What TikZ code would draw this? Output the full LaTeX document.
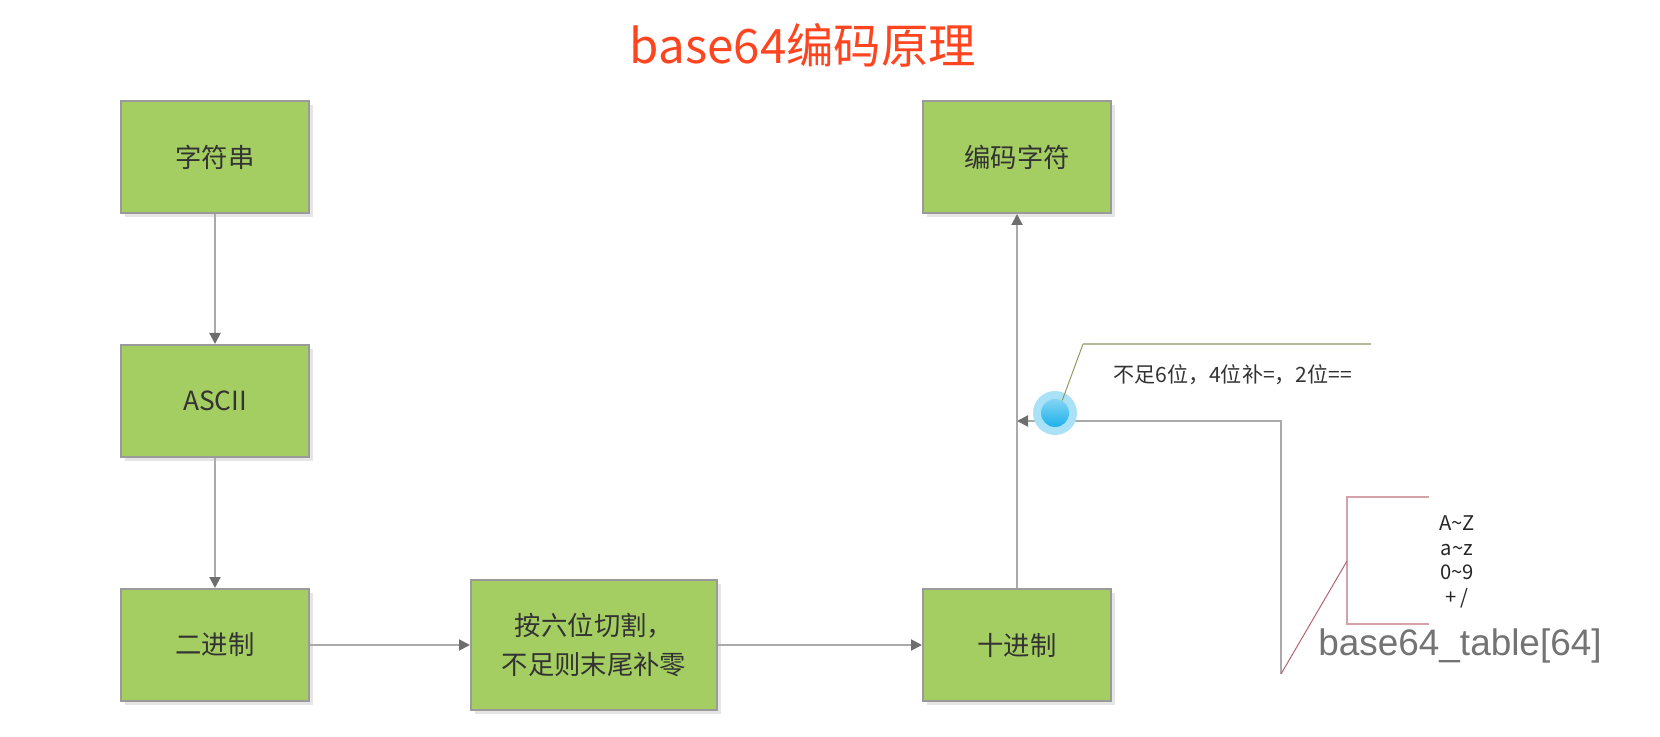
\documentclass[tikz,border=0pt]{standalone}
\usepackage{fontspec}
\setmainfont{Noto Sans CJK SC}
\newfontfamily\tablefont{Liberation Sans}
\usetikzlibrary{shapes,arrows.meta,shadows}
\definecolor{boxgreen}{HTML}{A5CE62}
\definecolor{boxline}{HTML}{9A9A9A}
\definecolor{lnk}{HTML}{AAAAAA}
\definecolor{tipgray}{HTML}{6E6E6E}
\definecolor{titlered}{HTML}{FF4420}
\definecolor{noteline}{HTML}{B2B996}
\definecolor{notediag}{HTML}{8E9C62}
\definecolor{pinkline}{HTML}{D4A3AA}
\definecolor{pinkdiag}{HTML}{B26473}
\definecolor{bubble}{HTML}{1DB1EA}
\definecolor{halo}{HTML}{A9E1F6}
\tikzstyle{block} = [draw=boxline, line width=0.04cm, fill=boxgreen, rectangle, minimum height=2.24cm, minimum width=3.76cm, align=center, text=black!80, font={\fontsize{15pt}{22.7pt}\selectfont}, drop shadow={shadow xshift=0.08cm, shadow yshift=-0.08cm, fill=black!10, opacity=1}]
\tikzstyle{conn} = [draw=lnk, line width=0.04cm]

\begin{document}
\begin{tikzpicture}[auto, node distance=4.88cm, >={Triangle[length=2.2mm, width=2.2mm, color=tipgray]}]
    \useasboundingbox (0,0) rectangle (33.2,14.72);
    \node [text=titlered, font={\fontsize{27pt}{30pt}\selectfont}] (title) at (16.06,13.82) {base64编码原理};

    \node [block] (str) at (4.30,11.58) {字符串};
    \node [block, below of=str] (asc) {ASCII};
    \node [block, below of=asc] (bin) {二进制};
    \node [block, right of=bin, node distance=7.58cm, minimum width=4.92cm, minimum height=2.6cm] (cut) {按六位切割，\\不足则末尾补零};
    \node [block, right of=cut, node distance=8.46cm] (dec) {十进制};
    \node [block, above of=dec, node distance=9.76cm] (enc) {编码字符};
    \draw [conn, ->] (str) -- (asc);
    \draw [conn, ->] (asc) -- (bin);
    \draw [conn, ->] (bin) -- (cut);
    \draw [conn, ->] (cut) -- (dec);
    \draw [conn, ->] (dec) -- (enc);

    % table link
    \coordinate (tbl) at (25.62,1.24);
    \coordinate (hit) at (dec |- 0,6.30);
    \draw [conn, ->] (tbl) |- (hit);

    % callout
    \node [circle, fill=halo, minimum size=0.88cm, inner sep=0pt] (halo) at (21.10,6.46) {};
    \node [circle, top color=bubble!55!white, bottom color=bubble, minimum size=0.56cm, inner sep=0pt] (dot) at (halo.center) {};
    \coordinate (knee) at (21.66,7.84);
    \draw [notediag, line width=0.02cm] (dot.60) -- (knee);
    \draw [noteline, line width=0.04cm] (knee) -- (27.42,7.84);
    \node [anchor=west, text=black!80, font={\fontsize{12pt}{13pt}\selectfont}] (note) at (22.14,7.22) {不足6位，4位补=，2位==};

    % base64 table
    \draw [pinkline, line width=0.04cm] (28.58,4.78) -- (26.94,4.78) -- (26.94,2.24) -- (28.58,2.24);
    \draw [pinkdiag, line width=0.02cm] (26.94,3.50) -- (tbl);
    \node [align=center, text=black!85, font={\fontsize{11.5pt}{14pt}\selectfont}] (chars) at (29.14,3.48) {A\textasciitilde Z\\a\textasciitilde z\\0\textasciitilde 9\\+ /};
    \node [text=black!55, font={\tablefont\fontsize{21pt}{24pt}\selectfont}] (tname) at (29.20,1.80) {base64\_table[64]};
\end{tikzpicture}
\end{document}
